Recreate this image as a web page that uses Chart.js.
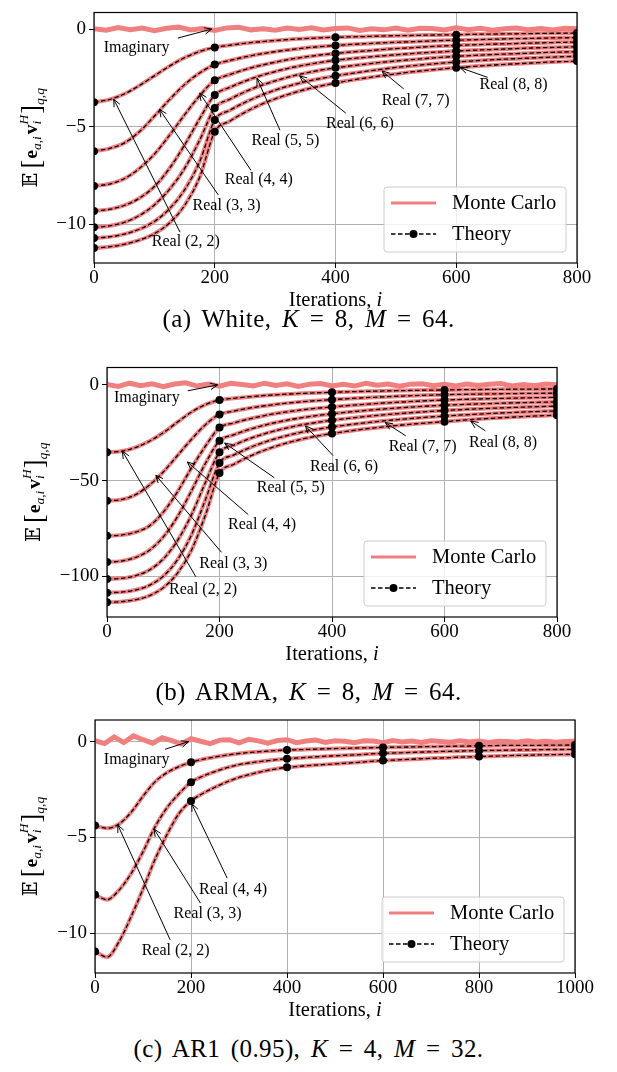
<!DOCTYPE html>
<html><head><meta charset="utf-8">
<script src="https://cdn.jsdelivr.net/npm/chart.js@4.4.1/dist/chart.umd.min.js"></script>
<style>
html,body{margin:0;padding:0;background:#fff}
body{width:617px;height:1072px;position:relative;overflow:hidden}
canvas{position:absolute;left:0}
.cap{position:absolute;left:0;width:617px;text-align:center;font-family:"Liberation Serif","DejaVu Serif",serif;font-size:25px;line-height:30px;color:#000;white-space:nowrap;word-spacing:4px;letter-spacing:0.4px}
</style></head><body>
<canvas id="chartA" width="617" height="330" style="top:0px;width:617px;height:330px"></canvas>
<canvas id="chartB" width="617" height="330" style="top:355px;width:617px;height:330px"></canvas>
<canvas id="chartC" width="617" height="330" style="top:700px;width:617px;height:330px"></canvas>
<div class="cap" style="top:304px">(a) White, <i>K</i> = 8, <i>M</i> = 64.</div>
<div class="cap" style="top:677px">(b) ARMA, <i>K</i> = 8, <i>M</i> = 64.</div>
<div class="cap" style="top:1034px">(c) AR1 (0.95), <i>K</i> = 4, <i>M</i> = 32.</div>
<script>
// ---------------- data ----------------
const seriesNames = ['Monte Carlo', 'Theory'];
const itersAB = [0,25,50,75,100,125,150,175,200,225,250,275,300,325,350,375,400,425,450,475,500,525,550,575,600,625,650,675,700,725,750,775,800];
const itersC = [0,25,50,75,100,125,150,175,200,225,250,275,300,325,350,375,400,425,450,475,500,525,550,575,600,625,650,675,700,725,750,775,800,825,850,875,900,925,950,975,1000];
const imagItersAB = [0,20,40,60,80,100,120,140,160,180,200,220,240,260,280,300,320,340,360,380,400,420,440,460,480,500,520,540,560,580,600,620,640,660,680,700,720,740,760,780,800];
const imagItersC = [0,20,40,60,80,100,120,140,160,180,200,220,240,260,280,300,320,340,360,380,400,420,440,460,480,500,520,540,560,580,600,620,640,660,680,700,720,740,760,780,800,820,840,860,880,900,920,940,960,980,1000];
const xTicksAB = [0,200,400,600,800];
const xTicksC = [0,200,400,600,800,1000];
const yTicksA = [-10,-5,0];
const yTicksB = [-100,-50,0];
const yTicksC = [-10,-5,0];
const markerItersAB = [0,200,400,600,800];
const markerItersC = [0,200,400,600,800,1000];
const noteLabelsK8 = ['Imaginary','Real (2, 2)','Real (3, 3)','Real (4, 4)','Real (5, 5)','Real (6, 6)','Real (7, 7)','Real (8, 8)'];
const noteLabelsK4 = ['Imaginary','Real (2, 2)','Real (3, 3)','Real (4, 4)'];

// (a) White: theory curves Real(2,2)..Real(8,8)
const whiteTheory = [
 [-3.75,-3.62,-3.33,-2.9,-2.4,-1.9,-1.47,-1.15,-0.94,-0.83,-0.73,-0.65,-0.59,-0.53,-0.49,-0.45,-0.42,-0.4,-0.38,-0.36,-0.34,-0.33,-0.31,-0.3,-0.29,-0.27,-0.26,-0.25,-0.24,-0.23,-0.22,-0.21,-0.2],
 [-6.27,-6.13,-5.85,-5.27,-4.47,-3.62,-2.85,-2.25,-1.82,-1.61,-1.43,-1.28,-1.16,-1.06,-0.97,-0.9,-0.84,-0.79,-0.75,-0.71,-0.68,-0.65,-0.62,-0.59,-0.57,-0.55,-0.53,-0.51,-0.49,-0.48,-0.46,-0.45,-0.44],
 [-8.05,-7.95,-7.68,-7.15,-6.42,-5.45,-4.4,-3.42,-2.63,-2.33,-2.08,-1.87,-1.7,-1.55,-1.43,-1.33,-1.25,-1.18,-1.12,-1.06,-1.0,-0.96,-0.91,-0.87,-0.84,-0.81,-0.78,-0.76,-0.74,-0.72,-0.7,-0.68,-0.67],
 [-9.33,-9.25,-9.05,-8.68,-8.08,-7.15,-5.95,-4.6,-3.38,-2.99,-2.67,-2.4,-2.18,-1.99,-1.84,-1.71,-1.6,-1.52,-1.45,-1.38,-1.32,-1.26,-1.21,-1.17,-1.13,-1.09,-1.06,-1.03,-1.0,-0.97,-0.95,-0.93,-0.91],
 [-10.17,-10.1,-9.92,-9.57,-9.02,-8.22,-7.15,-5.7,-4.05,-3.6,-3.22,-2.91,-2.66,-2.44,-2.26,-2.11,-1.99,-1.89,-1.8,-1.71,-1.64,-1.57,-1.51,-1.45,-1.4,-1.36,-1.32,-1.29,-1.26,-1.23,-1.2,-1.18,-1.16],
 [-10.72,-10.66,-10.52,-10.27,-9.87,-9.22,-8.25,-6.8,-4.67,-4.17,-3.76,-3.42,-3.13,-2.9,-2.7,-2.54,-2.4,-2.28,-2.17,-2.07,-1.97,-1.89,-1.82,-1.75,-1.69,-1.64,-1.59,-1.55,-1.52,-1.48,-1.45,-1.42,-1.4],
 [-11.23,-11.17,-11.04,-10.83,-10.5,-9.95,-9.05,-7.6,-5.27,-4.72,-4.27,-3.89,-3.58,-3.32,-3.1,-2.92,-2.77,-2.63,-2.51,-2.4,-2.3,-2.2,-2.12,-2.05,-1.98,-1.92,-1.87,-1.82,-1.78,-1.74,-1.7,-1.67,-1.64]
];
// Monte Carlo real bands run along the theory curves (within the band width)
const whiteMC = whiteTheory;
const whiteImagMC = [0.02,-0.06,0.08,-0.03,0.05,-0.08,0.04,0.1,-0.05,0.03,-0.07,0.06,0.09,-0.04,0.02,-0.06,0.05,-0.02,0.07,-0.05,0.03,0.06,-0.07,0.02,-0.04,0.05,-0.06,0.04,0.03,-0.05,0.06,-0.03,0.04,-0.06,0.02,0.05,-0.04,0.03,-0.05,0.04,0.01];

// (b) ARMA
const armaTheory = [
 [-35.2,-34.7,-32.8,-29.5,-25.0,-19.5,-14.2,-10.3,-7.9,-7.01,-6.28,-5.66,-5.16,-4.74,-4.39,-4.09,-3.85,-3.64,-3.44,-3.27,-3.11,-2.97,-2.84,-2.72,-2.62,-2.53,-2.45,-2.38,-2.31,-2.25,-2.19,-2.14,-2.1],
 [-60.5,-60.0,-57.5,-52.5,-45.5,-37.0,-28.5,-20.8,-15.4,-13.71,-12.31,-11.15,-10.19,-9.39,-8.72,-8.16,-7.7,-7.25,-6.84,-6.47,-6.14,-5.84,-5.57,-5.32,-5.1,-4.96,-4.84,-4.72,-4.62,-4.53,-4.44,-4.37,-4.3],
 [-78.9,-78.5,-77.0,-73.8,-66.5,-56.0,-43.5,-32.0,-22.3,-19.94,-17.97,-16.34,-14.99,-13.87,-12.93,-12.15,-11.5,-10.88,-10.31,-9.8,-9.34,-8.92,-8.54,-8.2,-7.9,-7.66,-7.44,-7.24,-7.06,-6.9,-6.75,-6.62,-6.5],
 [-92.6,-92.1,-90.3,-86.5,-79.5,-69.0,-55.5,-41.0,-29.2,-26.11,-23.55,-21.42,-19.65,-18.19,-16.96,-15.95,-15.1,-14.32,-13.62,-12.98,-12.4,-11.88,-11.41,-10.98,-10.6,-10.31,-10.04,-9.8,-9.58,-9.38,-9.2,-9.04,-8.9],
 [-101.5,-101.1,-99.8,-96.8,-91.0,-81.5,-68.0,-51.0,-35.2,-31.54,-28.5,-25.98,-23.89,-22.16,-20.7,-19.5,-18.5,-17.62,-16.82,-16.09,-15.44,-14.85,-14.31,-13.83,-13.4,-13.0,-12.64,-12.31,-12.02,-11.75,-11.51,-11.29,-11.1],
 [-108.6,-108.3,-107.2,-104.8,-100.0,-91.5,-78.5,-60.0,-40.8,-36.68,-33.26,-30.42,-28.07,-26.12,-24.48,-23.13,-22.0,-21.01,-20.12,-19.31,-18.58,-17.92,-17.32,-16.78,-16.3,-15.83,-15.41,-15.03,-14.68,-14.37,-14.08,-13.83,-13.6],
 [-113.6,-113.3,-112.3,-110.2,-106.0,-98.5,-86.5,-68.0,-46.1,-41.57,-37.8,-34.67,-32.09,-29.93,-28.13,-26.64,-25.4,-24.33,-23.35,-22.47,-21.68,-20.96,-20.31,-19.72,-19.2,-18.61,-18.08,-17.6,-17.16,-16.77,-16.41,-16.09,-15.8]
];
const armaMC = armaTheory;
const armaImagMC = [0.3,-0.8,0.9,-0.4,0.6,-0.9,0.5,1.1,-0.6,0.4,-0.7,0.8,0.2,-0.5,0.9,-0.3,0.6,-0.8,0.4,0.7,-0.5,0.3,-0.6,0.8,-0.2,0.5,-0.7,0.4,0.6,-0.4,0.3,-0.6,0.5,-0.3,0.4,0.7,-0.5,0.2,-0.4,0.5,0.1];

// (c) AR1 (0.95)
const ar1Theory = [
 [-4.38,-4.52,-4.3,-3.7,-2.85,-2.1,-1.62,-1.3,-1.08,-0.92,-0.8,-0.7,-0.62,-0.56,-0.51,-0.47,-0.44,-0.42,-0.4,-0.38,-0.36,-0.35,-0.33,-0.32,-0.3,-0.29,-0.28,-0.27,-0.26,-0.25,-0.24,-0.23,-0.22,-0.21,-0.2,-0.2,-0.19,-0.19,-0.18,-0.18,-0.17],
 [-8.0,-8.25,-7.75,-6.9,-5.75,-4.45,-3.45,-2.72,-2.12,-1.8,-1.56,-1.36,-1.2,-1.1,-1.02,-0.95,-0.89,-0.85,-0.81,-0.77,-0.74,-0.71,-0.68,-0.64,-0.61,-0.59,-0.57,-0.55,-0.53,-0.51,-0.5,-0.48,-0.47,-0.46,-0.45,-0.44,-0.43,-0.42,-0.41,-0.41,-0.4],
 [-10.96,-11.25,-10.45,-9.15,-7.7,-6.15,-4.85,-3.75,-3.1,-2.7,-2.38,-2.1,-1.87,-1.7,-1.55,-1.43,-1.34,-1.29,-1.24,-1.2,-1.16,-1.12,-1.08,-1.03,-0.99,-0.96,-0.93,-0.9,-0.87,-0.85,-0.82,-0.8,-0.78,-0.76,-0.74,-0.72,-0.71,-0.69,-0.68,-0.67,-0.66]
];
const ar1MC = ar1Theory;
const ar1ImagMC = [0.05,-0.1,0.25,-0.05,0.3,0.1,-0.08,0.2,0.05,-0.12,0.15,0.02,-0.1,0.08,0.1,-0.06,0.12,0.04,-0.08,0.06,0.1,-0.05,0.03,0.08,-0.04,0.05,0.02,-0.06,0.04,0.03,-0.05,0.06,-0.02,0.03,-0.04,0.05,0.01,-0.03,0.04,-0.02,0.03,-0.04,0.02,0.01,-0.03,0.04,-0.02,0.02,-0.03,0.01,0.02];

// annotation anchors in data units: [textX, textY, arrowFromX, arrowFromY, arrowToX, arrowToY]
const notesA = [[70.6,-0.96,139,-0.46,195,0],[152,-10.93,142.5,-10.42,32.7,-3.6],[219.6,-9.04,205.9,-8.51,108.5,-4.12],[273,-7.75,260,-7.25,175,-3.28],[317,-5.74,308,-5.19,270,-2.53],[440.5,-4.85,417,-4.31,340.5,-2.4],[532.7,-3.67,513,-3.07,477,-2.15],[694.8,-2.85,652,-2.48,606.5,-1.98]];
const notesB = [[70.7,-6.9,143.5,-3.1,196.6,0],[170.7,-106.9,158,-100.3,27.3,-34.6],[224.6,-93.5,203.6,-87.5,86.8,-47.2],[275.7,-73.2,251.2,-67.8,142.8,-40.3],[326.8,-54.0,297.4,-48.5,209.2,-30.4],[421.3,-43.0,401.7,-36.9,352.7,-21.4],[561.2,-32.1,531.1,-26.6,494.8,-19.7],[704,-30.0,672.5,-24.0,646.6,-18.9]];
const notesC = [[86.9,-0.96,145.9,-0.4,195,0],[168,-10.9,156.6,-10.35,47.5,-4.35],[234.4,-9.0,219.7,-8.43,123,-4.56],[287.7,-7.74,275.4,-7.13,201.6,-3.25]];

// ---------------- styling / drawing ----------------
const SERIF = '"Liberation Serif","DejaVu Serif","DejaVu Sans",serif';
const MC_COLOR = '#F08080';
const CH = 330;

function arrow(ctx, x0, y0, x1, y1) {
  ctx.beginPath(); ctx.moveTo(x0, y0); ctx.lineTo(x1, y1); ctx.stroke();
  const ang = Math.atan2(y1 - y0, x1 - x0), L = 8, W = 0.42;
  ctx.beginPath();
  ctx.moveTo(x1 - L * Math.cos(ang - W), y1 - L * Math.sin(ang - W));
  ctx.lineTo(x1, y1);
  ctx.lineTo(x1 - L * Math.cos(ang + W), y1 - L * Math.sin(ang + W));
  ctx.stroke();
}

function drawLegend(ctx, x, y, w, h) {
  ctx.save();
  const r = 3;
  ctx.beginPath();
  ctx.moveTo(x + r, y); ctx.lineTo(x + w - r, y); ctx.quadraticCurveTo(x + w, y, x + w, y + r);
  ctx.lineTo(x + w, y + h - r); ctx.quadraticCurveTo(x + w, y + h, x + w - r, y + h);
  ctx.lineTo(x + r, y + h); ctx.quadraticCurveTo(x, y + h, x, y + h - r);
  ctx.lineTo(x, y + r); ctx.quadraticCurveTo(x, y, x + r, y); ctx.closePath();
  ctx.fillStyle = 'rgba(255,255,255,0.8)'; ctx.fill();
  ctx.strokeStyle = '#cccccc'; ctx.lineWidth = 1; ctx.stroke();
  ctx.strokeStyle = MC_COLOR; ctx.lineWidth = 3;
  ctx.beginPath(); ctx.moveTo(x + 7, y + 16); ctx.lineTo(x + 52, y + 16); ctx.stroke();
  ctx.strokeStyle = '#000'; ctx.lineWidth = 1.3; ctx.setLineDash([4.5, 2.5]);
  ctx.beginPath(); ctx.moveTo(x + 7, y + 47); ctx.lineTo(x + 52, y + 47); ctx.stroke();
  ctx.setLineDash([]);
  ctx.fillStyle = '#000'; ctx.beginPath(); ctx.arc(x + 29.5, y + 47, 4, 0, Math.PI * 2); ctx.fill();
  ctx.font = '20.5px ' + SERIF; ctx.textAlign = 'left'; ctx.textBaseline = 'middle';
  ctx.fillText(seriesNames[0], x + 68, y + 17);
  ctx.fillText(seriesNames[1], x + 68, y + 48);
  ctx.restore();
}

function drawXLabel(ctx, cx, base) {
  ctx.save();
  ctx.fillStyle = '#000'; ctx.textBaseline = 'alphabetic'; ctx.textAlign = 'left';
  const f1 = '20.5px ' + SERIF, f2 = 'italic 20.5px ' + SERIF;
  ctx.font = f1; const w1 = ctx.measureText('Iterations, ').width;
  ctx.font = f2; const w2 = ctx.measureText('i').width;
  const x0 = cx - (w1 + w2) / 2;
  ctx.font = f1; ctx.fillText('Iterations, ', x0, base);
  ctx.font = f2; ctx.fillText('i', x0 + w1, base);
  ctx.restore();
}

function drawYLabel(ctx, bx, cy) {
  const B = 19.5, S = 13.5;
  ctx.save();
  ctx.translate(bx, cy); ctx.rotate(-Math.PI / 2);
  ctx.fillStyle = '#000'; ctx.textBaseline = 'alphabetic'; ctx.textAlign = 'left';
  const fN = B + 'px ' + SERIF, fBr = (B * 1.35) + 'px ' + SERIF, fB = 'bold ' + B + 'px ' + SERIF, fS = 'italic ' + S + 'px ' + SERIF;
  const items = [
    {t: '\u{1D53C}', f: fN, dy: 0, pre: 0},
    {t: '[', f: fBr, dy: 3, pre: 4},
    {t: 'e', f: fB, dy: 0, pre: 1},
    {t: 'a,i', f: fS, dy: 4, pre: 0},
    {t: 'v', f: fB, dy: 0, pre: 2},
    {t: 'H', f: fS, dy: -9, pre: 0, stack: true},
    {t: 'i', f: fS, dy: 4, pre: 0},
    {t: ']', f: fBr, dy: 3, pre: 1},
    {t: 'q,q', f: fS, dy: 7, pre: 0}
  ];
  let total = 0; const pos = [];
  let stackW = 0;
  items.forEach((it) => {
    ctx.font = it.f; const w = ctx.measureText(it.t).width;
    if (it.stack) { pos.push(total + it.pre); stackW = w; total += it.pre; return; }
    if (stackW) { pos.push(total + it.pre); total += it.pre + Math.max(w, stackW); stackW = 0; return; }
    pos.push(total + it.pre); total += it.pre + w;
  });
  const start = -total / 2;
  items.forEach((it, k) => { ctx.font = it.f; ctx.fillText(it.t, start + pos[k], it.dy); });
  ctx.restore();
}

function makeDeco(p) {
  return {
    id: 'deco' + p.id,
    afterDatasetsDraw(chart) {
      const ctx = chart.ctx, a = chart.chartArea, xs = chart.scales.x, ys = chart.scales.y;
      ctx.save();
      ctx.fillStyle = '#000'; ctx.strokeStyle = '#000'; ctx.lineWidth = 1;
      ctx.font = '16px ' + SERIF; ctx.textAlign = 'center'; ctx.textBaseline = 'middle';
      p.notes.forEach((n, k) => {
        ctx.fillText(p.noteLabels[k], xs.getPixelForValue(n[0]), ys.getPixelForValue(n[1]));
        arrow(ctx, xs.getPixelForValue(n[2]), ys.getPixelForValue(n[3]), xs.getPixelForValue(n[4]), ys.getPixelForValue(n[5]));
      });
      ctx.lineWidth = 1.2; ctx.strokeStyle = '#000';
      ctx.strokeRect(a.left, a.top, a.right - a.left, a.bottom - a.top);
      drawLegend(ctx, a.right - 11 - 182, a.bottom - 11 - 65, 182, 65);
      drawXLabel(ctx, (a.left + a.right) / 2, a.bottom + 43);
      drawYLabel(ctx, p.ylabelX, (a.top + a.bottom) / 2);
      ctx.restore();
    }
  };
}

const fmt = v => (v < 0 ? '\u2212' + Math.abs(v) : String(v));

function buildChart(p) {
  const datasets = [];
  datasets.push({
    data: p.imagIters.map((x, i) => ({x, y: p.imagMC[i]})),
    borderColor: MC_COLOR, borderWidth: 5, pointRadius: 0, order: 2, clip: 0, tension: 0
  });
  p.mc.forEach(row => datasets.push({
    data: p.iters.map((x, i) => ({x, y: row[i]})),
    borderColor: MC_COLOR, borderWidth: 4, pointRadius: 0, order: 2, clip: 0,
    cubicInterpolationMode: 'monotone'
  }));
  p.theory.forEach(row => datasets.push({
    data: p.iters.map((x, i) => ({x, y: row[i]})),
    borderColor: '#000', borderWidth: 1.3, borderDash: [4.5, 2.5],
    pointRadius: c => (p.markers.includes(c.raw.x) ? 4 : 0),
    pointBackgroundColor: '#000', pointBorderColor: '#000', pointBorderWidth: 0,
    order: 1, clip: 0, cubicInterpolationMode: 'monotone'
  }));
  const tickFont = {family: SERIF, size: 19, lineHeight: 1};
  return new Chart(document.getElementById(p.id), {
    type: 'line',
    data: {datasets},
    options: {
      responsive: false, animation: false, events: [],
      layout: {padding: {left: 0, top: p.top, right: 617 - p.right, bottom: 0}},
      plugins: {legend: {display: false}, tooltip: {enabled: false}},
      scales: {
        x: {
          type: 'linear', min: 0, max: p.xmax,
          afterBuildTicks: s => { s.ticks = p.xTicks.map(v => ({value: v})); },
          afterFit: s => { s.height = CH - p.bottom; },
          ticks: {font: tickFont, color: '#000', padding: 1, maxRotation: 0, autoSkip: false, callback: v => fmt(v)},
          grid: {color: '#b0b0b0', lineWidth: 1, tickColor: '#000', tickLength: 5, tickWidth: 1},
          border: {display: false}
        },
        y: {
          type: 'linear', min: p.ymin, max: p.ymax,
          afterBuildTicks: s => { s.ticks = p.yTicks.map(v => ({value: v})); },
          afterFit: s => { s.width = p.left; },
          ticks: {font: tickFont, color: '#000', padding: 3, autoSkip: false, callback: v => fmt(v)},
          grid: {color: '#b0b0b0', lineWidth: 1, tickColor: '#000', tickLength: 5, tickWidth: 1},
          border: {display: false}
        }
      }
    },
    plugins: [makeDeco(p)]
  });
}

buildChart({id: 'chartA', left: 94, right: 577, top: 6, bottom: 263, xmax: 800, ymin: -12.0, ymax: 0.85,
  xTicks: xTicksAB, yTicks: yTicksA, markers: markerItersAB, iters: itersAB, imagIters: imagItersAB,
  theory: whiteTheory, mc: whiteMC, imagMC: whiteImagMC, notes: notesA, noteLabels: noteLabelsK8, ylabelX: 37});
buildChart({id: 'chartB', left: 107, right: 557, top: 7, bottom: 262, xmax: 800, ymin: -121.3, ymax: 9.1,
  xTicks: xTicksAB, yTicks: yTicksB, markers: markerItersAB, iters: itersAB, imagIters: imagItersAB,
  theory: armaTheory, mc: armaMC, imagMC: armaImagMC, notes: notesB, noteLabels: noteLabelsK8, ylabelX: 39.5});
buildChart({id: 'chartC', left: 95, right: 575, top: 20, bottom: 273, xmax: 1000, ymin: -12.08, ymax: 1.13,
  xTicks: xTicksC, yTicks: yTicksC, markers: markerItersC, iters: itersC, imagIters: imagItersC,
  theory: ar1Theory, mc: ar1MC, imagMC: ar1ImagMC, notes: notesC, noteLabels: noteLabelsK4, ylabelX: 37});
</script>
</body></html>
